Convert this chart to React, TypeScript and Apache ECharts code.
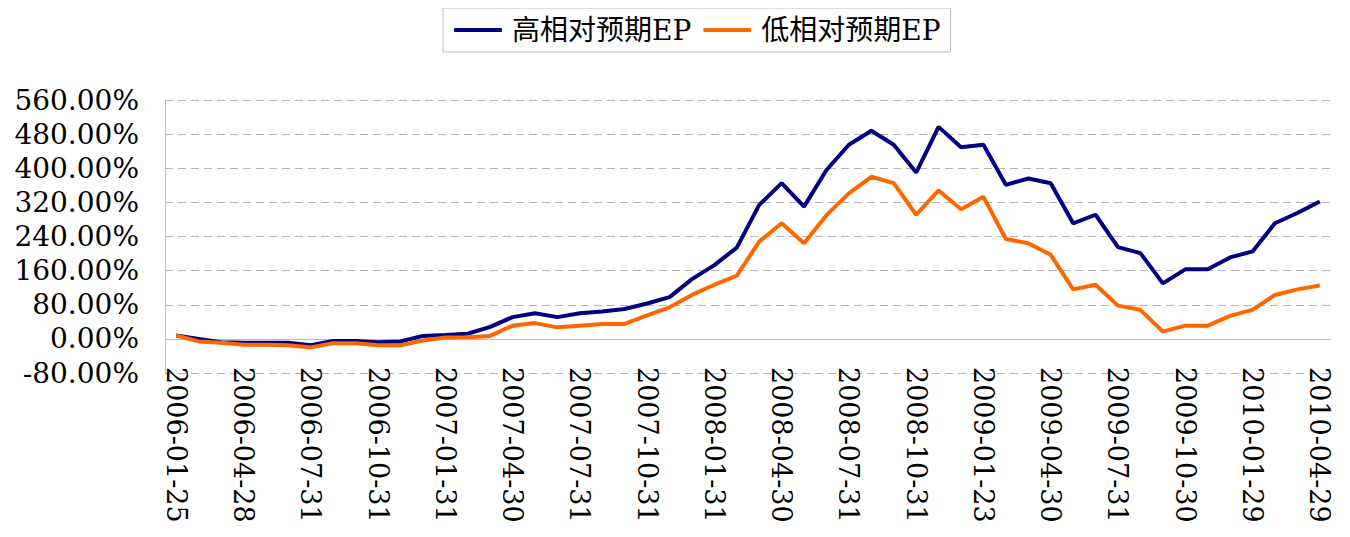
import React, { useEffect, useRef } from "react";
import * as echarts from "echarts";

const dates = [
  "2006-01-25", "2006-02-28", "2006-03-31", "2006-04-28", "2006-05-31", "2006-06-30",
  "2006-07-31", "2006-08-31", "2006-09-29", "2006-10-31", "2006-11-30", "2006-12-29",
  "2007-01-31", "2007-02-28", "2007-03-30", "2007-04-30", "2007-05-31", "2007-06-29",
  "2007-07-31", "2007-08-31", "2007-09-28", "2007-10-31", "2007-11-30", "2007-12-28",
  "2008-01-31", "2008-02-29", "2008-03-31", "2008-04-30", "2008-05-30", "2008-06-30",
  "2008-07-31", "2008-08-29", "2008-09-26", "2008-10-31", "2008-11-28", "2008-12-31",
  "2009-01-23", "2009-02-27", "2009-03-31", "2009-04-30", "2009-05-27", "2009-06-30",
  "2009-07-31", "2009-08-31", "2009-09-30", "2009-10-30", "2009-11-30", "2009-12-31",
  "2010-01-29", "2010-02-26", "2010-03-31", "2010-04-29",
];

const highEP = [
  8, 0, -8, -9, -9, -9, -15, -5, -5, -8, -6, 7,
  9, 12, 28, 51, 60, 51, 60, 64, 70, 83, 98, 140,
  173, 214, 314, 365, 310, 396, 455, 488, 455, 390, 497, 449,
  455, 361, 376, 365, 271, 291, 215, 201, 130, 163, 163, 191,
  205, 271, 295, 322,
];

const lowEP = [
  8, -6, -9, -14, -14, -15, -20, -10, -10, -15, -15, -4,
  3, 4, 7, 31, 37, 27, 31, 35, 35, 55, 74, 103,
  127, 148, 228, 271, 224, 290, 341, 380, 365, 291, 348, 304,
  333, 234, 224, 197, 116, 127, 78, 68, 17, 31, 31, 54,
  68, 103, 116, 125,
];

const seriesNames = ["高相对预期EP", "低相对预期EP"];
const yMin = -80;
const yMax = 560;
const yStep = 80;

const FONT = "'DejaVu Serif', 'Noto Sans CJK SC', serif";

export default function App() {
  const ref = useRef<HTMLDivElement>(null);
  useEffect(() => {
    if (!ref.current) return;
    const chart = echarts.init(ref.current, null, { renderer: "svg" });
    chart.setOption({
      animation: false,
      backgroundColor: "#ffffff",
      legend: {
        data: seriesNames,
        left: 435,
        top: 0,
        padding: [8, 10, 8, 11],
        itemGap: 12,
        itemWidth: 48,
        itemHeight: 4,
        icon: "roundRect",
        borderColor: "#bdbdbd",
        borderWidth: 1,
        textStyle: {
          fontSize: 28,
          fontFamily: FONT,
          color: "#000",
          padding: [0, 0, 0, 5],
        },
      },
      grid: { left: 157, right: 11, top: 92, bottom: 164, containLabel: false },
      xAxis: {
        type: "category",
        data: dates,
        boundaryGap: true,
        axisLine: { show: false, onZero: false },
        axisTick: { show: false },
        axisLabel: {
          interval: 2,
          rotate: -90,
          margin: -6,
          fontSize: 27,
          fontFamily: FONT,
          color: "#000",
        },
        splitLine: { show: false },
      },
      yAxis: {
        type: "value",
        min: yMin,
        max: yMax,
        interval: yStep,
        axisLine: { show: true, lineStyle: { color: "#bdbdbd", width: 1 } },
        axisTick: { show: false },
        axisLabel: {
          margin: 26,
          fontSize: 28,
          fontFamily: FONT,
          color: "#000",
          formatter: (v: number) => v.toFixed(2) + "%",
        },
        splitLine: {
          show: true,
          lineStyle: { color: "#b4b4b4", width: 1, type: [8, 5] },
        },
      },
      series: [
        {
          name: seriesNames[0],
          type: "line",
          data: highEP,
          symbol: "none",
          lineStyle: { color: "#000080", width: 4 },
          itemStyle: { color: "#000080" },
          z: 3,
          markLine: {
            silent: true,
            symbol: "none",
            label: { show: false },
            lineStyle: { color: "#bdbdbd", width: 1, type: "solid" },
            data: [{ yAxis: 0 }],
            z: 1,
          },
        },
        {
          name: seriesNames[1],
          type: "line",
          data: lowEP,
          symbol: "none",
          lineStyle: { color: "#ff6600", width: 4 },
          itemStyle: { color: "#ff6600" },
          z: 4,
        },
      ],
    });
    return () => chart.dispose();
  }, []);
  return <div ref={ref} style={{ width: 1334, height: 529 }} />;
}
